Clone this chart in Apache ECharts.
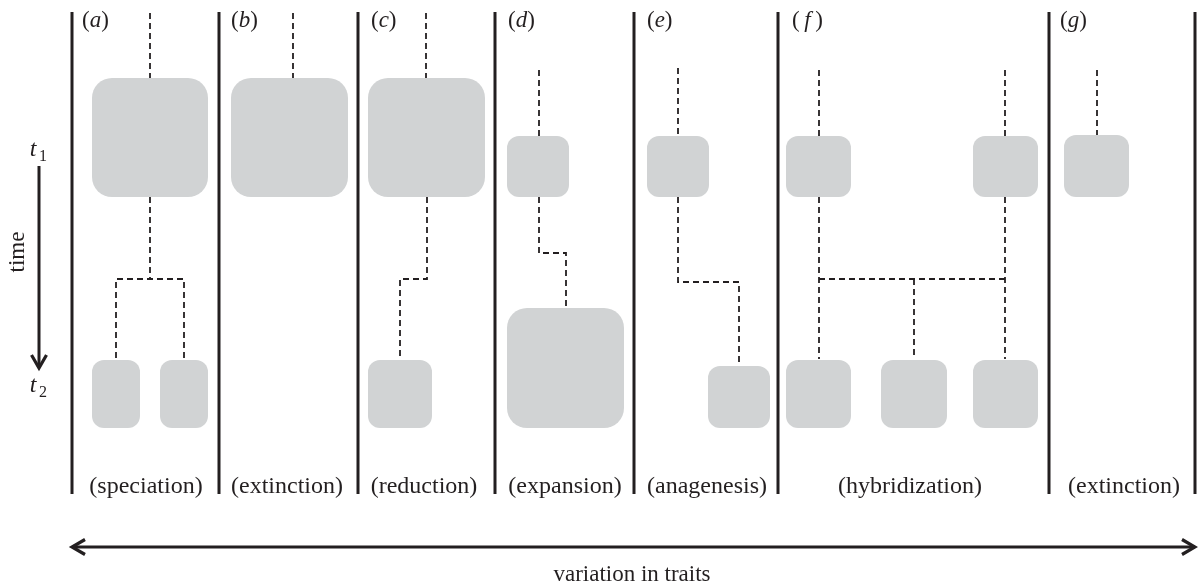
<!DOCTYPE html>
<html>
<head>
<meta charset="utf-8">
<script src="https://cdn.jsdelivr.net/npm/echarts@6/dist/echarts.min.js"></script>
<style>
  html, body { margin: 0; padding: 0; background: #fff; }
  #main { width: 1198px; height: 584px; }
</style>
</head>
<body>
<div id="main"></div>
<script>
// diagram space: x = trait position, y = time (down)
var dividerX = [72, 219, 358, 495, 634, 778, 1049, 1195];
var dividerSpan = [12, 494];

// taxa boxes [x0, y0, x1, y1]
var boxes = [
    [92, 78, 208, 197], [231, 78, 348, 197], [368, 78, 485, 197],
    [507, 136, 569, 197], [647, 136, 709, 197], [786, 136, 851, 197],
    [973, 136, 1038, 197], [1064, 135, 1129, 197],
    [92, 360, 140, 428], [160, 360, 208, 428], [368, 360, 432, 428],
    [507, 308, 624, 428], [708, 366, 770, 428],
    [786, 360, 851, 428], [881, 360, 947, 428], [973, 360, 1038, 428]
];

// dashed lineages
var lineages = [
    [[150, 13], [150, 78]], [[150, 197], [150, 279]],
    [[116, 358], [116, 279], [184, 279], [184, 358]],
    [[293, 13], [293, 78]],
    [[426, 13], [426, 78]], [[427, 197], [427, 279], [400, 279], [400, 359]],
    [[539, 70], [539, 136]], [[539, 197], [539, 253], [566, 253], [566, 307]],
    [[678, 68], [678, 136]], [[678, 197], [678, 282], [739, 282], [739, 366]],
    [[819, 70], [819, 136]], [[1005, 70], [1005, 136]],
    [[819, 197], [819, 359]], [[1005, 197], [1005, 359]],
    [[819, 279], [1005, 279]], [[914, 279], [914, 359]],
    [[1097, 70], [1097, 135]]
];

var panelLetters = ['a', 'b', 'c', 'd', 'e', 'f', 'g'];
var panelLetterX = [82, 231, 371, 508, 647, 792, 1060];
var panelLetterY = 21;

var processNames = ['(speciation)', '(extinction)', '(reduction)', '(expansion)', '(anagenesis)', '(hybridization)', '(extinction)'];
var processX = [146, 287, 424, 565, 707, 910, 1124];
var processY = 487;

var timeArrow = [[39, 166], [39, 368]];
var traitArrow = [[72, 547], [1195, 547]];

var ink = '#231f20';
var boxGrey = '#d1d3d4';
var serif = '"Liberation Serif", "DejaVu Serif", serif';

var chart = echarts.init(document.getElementById('main'), null, { renderer: 'canvas' });

function chevron(api, tip, dir) {
    // dir: unit vector pointing along arrow
    var p = api.coord(tip);
    var L = 13, W = 7.5;
    var bx = p[0] - dir[0] * L, by = p[1] - dir[1] * L;
    var nx = -dir[1], ny = dir[0];
    return {
        type: 'polyline',
        shape: { points: [[bx + nx * W, by + ny * W], [p[0], p[1]], [bx - nx * W, by - ny * W]] },
        style: { stroke: ink, lineWidth: 3.2, fill: null, lineJoin: 'miter' }
    };
}

var option = {
    animation: false,
    backgroundColor: '#fff',
    grid: { left: 0, right: 0, top: 0, bottom: 0 },
    xAxis: { type: 'value', min: 0, max: 1198, show: false },
    yAxis: { type: 'value', min: 0, max: 584, inverse: true, show: false },
    series: [
        {
            name: 'boxes',
            type: 'custom',
            clip: false,
            data: boxes,
            renderItem: function (params, api) {
                var p0 = api.coord([api.value(0), api.value(1)]);
                var p1 = api.coord([api.value(2), api.value(3)]);
                var w = p1[0] - p0[0], h = p1[1] - p0[1];
                var r = Math.min(w, h) > 100 ? 20 : 12;
                return {
                    type: 'rect',
                    shape: { x: p0[0], y: p0[1], width: w, height: h, r: r },
                    style: { fill: boxGrey }
                };
            }
        },
        {
            name: 'lineages',
            type: 'custom',
            clip: false,
            data: lineages.map(function (l, i) { return [l[0][0], l[0][1], i]; }),
            renderItem: function (params, api) {
                var pts = lineages[params.dataIndex].map(function (q) { return api.coord(q); });
                return {
                    type: 'polyline',
                    shape: { points: pts },
                    style: { stroke: ink, lineWidth: 1.8, lineDash: [6, 4], fill: null }
                };
            }
        },
        {
            name: 'dividers',
            type: 'custom',
            clip: false,
            data: dividerX.map(function (x) { return [x, dividerSpan[0]]; }),
            renderItem: function (params, api) {
                var a = api.coord([api.value(0), dividerSpan[0]]);
                var b = api.coord([api.value(0), dividerSpan[1]]);
                return {
                    type: 'line',
                    shape: { x1: a[0], y1: a[1], x2: b[0], y2: b[1] },
                    style: { stroke: ink, lineWidth: 3 }
                };
            }
        },
        {
            name: 'arrows',
            type: 'custom',
            clip: false,
            data: [[timeArrow[0][0], timeArrow[0][1]], [traitArrow[0][0], traitArrow[0][1]]],
            renderItem: function (params, api) {
                var seg = params.dataIndex === 0 ? timeArrow : traitArrow;
                var a = api.coord(seg[0]), b = api.coord(seg[1]);
                var kids = [{
                    type: 'line',
                    shape: { x1: a[0], y1: a[1], x2: b[0], y2: b[1] },
                    style: { stroke: ink, lineWidth: 3 }
                }];
                if (params.dataIndex === 0) {
                    kids.push(chevron(api, seg[1], [0, 1]));
                } else {
                    kids.push(chevron(api, seg[0], [-1, 0]));
                    kids.push(chevron(api, seg[1], [1, 0]));
                }
                return { type: 'group', children: kids };
            }
        },
        {
            name: 'panel letters',
            type: 'custom',
            clip: false,
            data: panelLetterX.map(function (x) { return [x, panelLetterY]; }),
            renderItem: function (params, api) {
                var p = api.coord([api.value(0), api.value(1)]);
                var letter = panelLetters[params.dataIndex];
                var pad = letter === 'f' ? '\u2009' : '';
                return {
                    type: 'text',
                    x: p[0], y: p[1],
                    style: {
                        text: '(' + pad + '{i|' + letter + '}' + pad + ')',
                        font: '23px ' + serif,
                        fill: ink,
                        align: 'left',
                        verticalAlign: 'middle',
                        rich: { i: { fontStyle: 'italic', fontSize: 23, fontFamily: serif, fill: ink } }
                    }
                };
            }
        },
        {
            name: 'process labels',
            type: 'custom',
            clip: false,
            data: processX.map(function (x) { return [x, processY]; }),
            renderItem: function (params, api) {
                var p = api.coord([api.value(0), api.value(1)]);
                return {
                    type: 'text',
                    x: p[0], y: p[1],
                    style: {
                        text: processNames[params.dataIndex],
                        font: '24px ' + serif,
                        fill: ink,
                        align: 'center',
                        verticalAlign: 'middle'
                    }
                };
            }
        },
        {
            name: 'axis labels',
            type: 'custom',
            clip: false,
            data: [[632, 575], [18, 252], [33, 150], [43, 157], [33, 386], [43, 393]],
            renderItem: function (params, api) {
                var p = api.coord([api.value(0), api.value(1)]);
                var i = params.dataIndex;
                var txt = ['variation in traits', 'time', 't', '1', 't', '2'][i];
                var italic = (i === 2 || i === 4);
                var size = (i === 3 || i === 5) ? 16 : (i < 2 ? 23 : 24);
                return {
                    type: 'text',
                    x: p[0], y: p[1],
                    rotation: i === 1 ? Math.PI / 2 : 0,
                    style: {
                        text: txt,
                        font: (italic ? 'italic ' : '') + size + 'px ' + serif,
                        fill: ink,
                        align: 'center',
                        verticalAlign: 'middle'
                    }
                };
            }
        }
    ]
};

chart.setOption(option);
</script>
</body>
</html>
